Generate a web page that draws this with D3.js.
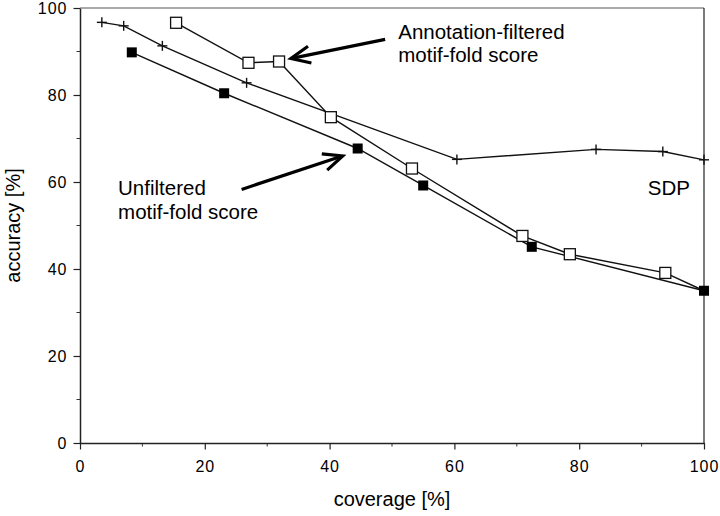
<!DOCTYPE html>
<html><head><meta charset="utf-8">
<script src="https://cdn.jsdelivr.net/npm/d3@7"></script>
<style>body{margin:0;background:#fff}svg{display:block}text{font-family:"Liberation Sans",Arial,sans-serif;fill:#000}</style>
</head><body><svg id="c" width="720" height="516"></svg>
<script>
const sdpX = [3.5, 7.0, 13.2, 26.7, 60.4, 82.7, 93.4, 100];
const sdpY = [96.7, 95.9, 91.3, 82.8, 65.2, 67.5, 67.0, 65.1];
const annX = [15.4, 27.0, 31.9, 40.2, 53.2, 70.9, 78.5, 93.8, 100];
const annY = [96.6, 87.4, 87.7, 74.9, 63.1, 47.6, 43.4, 39.1, 35.0];
const unfX = [8.3, 23.1, 44.5, 55.0, 72.4, 100];
const unfY = [89.8, 80.4, 67.7, 59.2, 45.1, 35.0];
const xTicks = [0, 20, 40, 60, 80, 100];
const yTicks = [0, 20, 40, 60, 80, 100];
const labels = [
  {lines: ["Annotation-filtered", "motif-fold score"], x: 51.0, y: 92.9},
  {lines: ["Unfiltered", "motif-fold score"], x: 6.1, y: 57.0},
  {lines: ["SDP"], x: 91.0, y: 57.0}
];
const arrows = [
  {from: [48.9, 92.8], to: [33.8, 88.4]},
  {from: [25.9, 58.3], to: [42.1, 66.0]}
];

const svg = d3.select("#c");
const x = d3.scaleLinear().domain([0, 100]).range([80, 704]);
const y = d3.scaleLinear().domain([0, 100]).range([443, 8]);

// frame top/right
svg.append("line").attr("x1", x(0)).attr("x2", x(100)).attr("y1", y(100)).attr("y2", y(100)).attr("stroke", "#555").attr("stroke-width", 1);
svg.append("line").attr("x1", x(100)).attr("x2", x(100)).attr("y1", y(100)).attr("y2", y(0)).attr("stroke", "#222").attr("stroke-width", 1.2);

// minor ticks
const minor = d3.range(10, 100, 20);
svg.append("g").selectAll("line").data(minor).join("line")
  .attr("x1", d => x(d)).attr("x2", d => x(d)).attr("y1", y(0)).attr("y2", y(0) + 3.5)
  .attr("stroke", "#333").attr("stroke-width", 1);
svg.append("g").selectAll("line").data(minor).join("line")
  .attr("y1", d => y(d)).attr("y2", d => y(d)).attr("x1", x(0)).attr("x2", x(0) - 3.5)
  .attr("stroke", "#333").attr("stroke-width", 1);

const xa = svg.append("g").attr("transform", `translate(0,${y(0)})`)
  .call(d3.axisBottom(x).tickValues(xTicks).tickSize(6.5).tickPadding(8).tickSizeOuter(0));
const ya = svg.append("g").attr("transform", `translate(${x(0)},0)`)
  .call(d3.axisLeft(y).tickValues(yTicks).tickSize(6.5).tickPadding(6).tickSizeOuter(0));
[xa, ya].forEach(a => {
  a.select(".domain").attr("stroke", "#222").attr("stroke-width", 1.5);
  a.selectAll(".tick line").attr("stroke", "#222").attr("stroke-width", 1.2);
  a.selectAll(".tick text").attr("font-size", 16).attr("letter-spacing", "1px")
    .attr("font-family", '"Liberation Sans",Arial,sans-serif');
});
xa.selectAll(".tick text").attr("dy", "0.9em");

svg.append("text").attr("x", (x(0) + x(100)) / 2).attr("y", 506).attr("text-anchor", "middle")
  .attr("font-size", 20).text("coverage [%]");
svg.append("text").attr("transform", `translate(20,${(y(0) + y(100)) / 2}) rotate(-90)`)
  .attr("text-anchor", "middle").attr("font-size", 20).text("accuracy [%]");

const line = d3.line().x(d => x(d[0])).y(d => y(d[1]));
const sdp = d3.zip(sdpX, sdpY), ann = d3.zip(annX, annY), unf = d3.zip(unfX, unfY);
[sdp, unf, ann].forEach(s => svg.append("path").datum(s).attr("d", line)
  .attr("fill", "none").attr("stroke", "#111").attr("stroke-width", 1.4));

// plus markers
const pg = svg.append("g").attr("stroke", "#111").attr("stroke-width", 1.4);
sdp.forEach(d => {
  pg.append("line").attr("x1", x(d[0]) - 5).attr("x2", x(d[0]) + 5).attr("y1", y(d[1])).attr("y2", y(d[1]));
  pg.append("line").attr("x1", x(d[0])).attr("x2", x(d[0])).attr("y1", y(d[1]) - 5).attr("y2", y(d[1]) + 5);
});
// filled squares
svg.append("g").selectAll("rect").data(unf).join("rect")
  .attr("x", d => x(d[0]) - 5).attr("y", d => y(d[1]) - 5).attr("width", 10).attr("height", 10)
  .attr("fill", "#000");
// open squares
svg.append("g").selectAll("rect").data(ann.slice(0, ann.length - 1)).join("rect")
  .attr("x", d => x(d[0]) - 5.5).attr("y", d => y(d[1]) - 5.5).attr("width", 11).attr("height", 11)
  .attr("fill", "#fff").attr("stroke", "#111").attr("stroke-width", 1.3);

// labels
labels.forEach(l => {
  const t = svg.append("text").attr("x", x(l.x)).attr("y", y(l.y)).attr("font-size", 20.5);
  l.lines.forEach((s, i) => t.append("tspan").attr("x", x(l.x)).attr("dy", i ? 23.5 : 0).text(s));
});

// arrows
arrows.forEach(a => {
  const x1 = x(a.from[0]), y1 = y(a.from[1]), x2 = x(a.to[0]), y2 = y(a.to[1]);
  const ang = Math.atan2(y2 - y1, x2 - x1);
  svg.append("line").attr("x1", x1).attr("y1", y1).attr("x2", x2 - 2 * Math.cos(ang)).attr("y2", y2 - 2 * Math.sin(ang))
    .attr("stroke", "#000").attr("stroke-width", 3.2);
  const L = 21, w = 0.42;
  const p = [[x2 - L * Math.cos(ang - w), y2 - L * Math.sin(ang - w)], [x2, y2], [x2 - L * Math.cos(ang + w), y2 - L * Math.sin(ang + w)]];
  svg.append("path").attr("d", d3.line()(p)).attr("fill", "none").attr("stroke", "#000")
    .attr("stroke-width", 3.2).attr("stroke-linejoin", "miter").attr("stroke-linecap", "butt");
});
</script></body></html>
